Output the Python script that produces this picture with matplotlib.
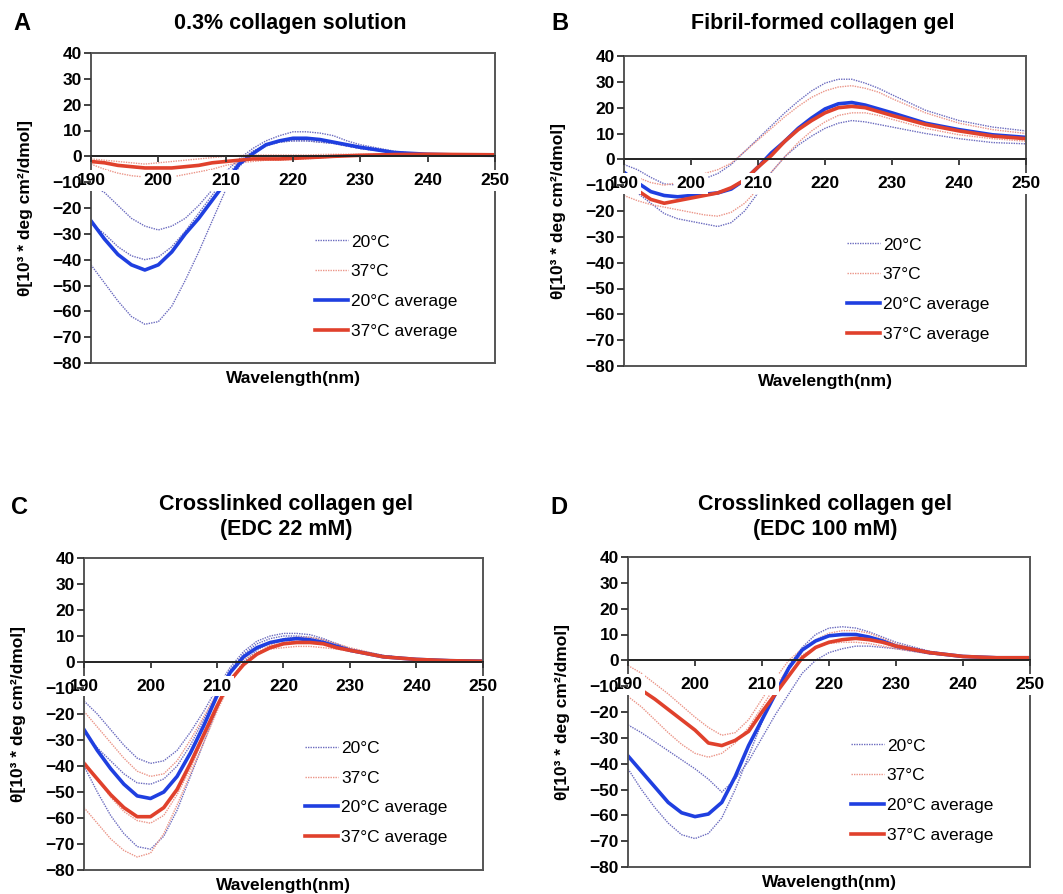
import matplotlib
matplotlib.use("Agg")
import matplotlib.pyplot as plt

# wavelength grid (nm) shared by every curve
wl = [190, 192, 194, 196, 198, 200, 202, 204, 206, 208, 210, 212, 214, 216,
      218, 220, 222, 224, 226, 228, 230, 235, 240, 245, 250]

# A: 0.3% collagen solution
a20_r1 = [-11, -14, -19, -24, -27, -28.5, -27, -24, -19, -13, -6, -1, 3, 6, 8, 9.5, 9.5, 9, 8, 6, 4.5, 2, 0.5, 0.3, 0.3]
a20_r2 = [-26, -30, -35, -38.5, -40, -39, -35, -29, -22, -15, -8, -2, 2, 4.5, 5.5, 6, 6, 5.5, 5, 4, 3, 1.5, 0.5, 0.3, 0.3]
a20_r3 = [-42, -49, -56, -62, -65, -64, -58, -48, -37, -25, -13, -4, 1, 4, 5.5, 6, 6, 5.5, 5, 4, 3, 1.5, 0.5, 0.3, 0.3]
a37_r1 = [-1, -1.5, -2, -2.5, -3, -2.5, -2, -1.5, -1, -0.5, 0, 0.3, 0.5, 0.5, 0.5, 0.5, 0.5, 0.7, 0.8, 0.8, 0.8, 0.8, 0.8, 0.7, 0.6]
a37_r2 = [-3, -5, -6.5, -7.5, -8, -8, -8, -7, -6, -5, -3.5, -2.5, -2, -1.5, -1.5, -1.2, -1, -0.6, -0.3, 0, 0.2, 0.5, 0.6, 0.6, 0.5]
a20_avg = [-25, -32, -38, -42, -44, -42, -37, -30, -24, -17, -10, -3, 1, 4.5, 6, 7, 7, 6.5, 5.5, 4.5, 3.5, 1.5, 0.8, 0.5, 0.4]
a37_avg = [-2, -2.5, -3.5, -4, -4.5, -4.5, -4.5, -4, -3.5, -2.5, -2, -1.5, -1, -1, -1, -0.8, -0.5, -0.3, 0, 0.2, 0.4, 0.7, 0.8, 0.7, 0.6]

# B: fibril-formed collagen gel
b20_r1 = [-2, -4, -7, -9.5, -10, -9, -7.5, -5.5, -2, 3, 8, 13, 18, 22.5, 26.5, 29.5, 31, 31, 29.5, 27.5, 25, 19, 15, 12.5, 11]
b20_r2 = [-10, -13, -17, -21, -23, -24, -25, -26, -24.5, -20, -13, -5, 1, 5.5, 9, 12, 14, 15, 14.5, 13.5, 12.5, 10, 8, 6.5, 6]
b37_r1 = [-5, -7, -9, -10, -9, -7.5, -5.5, -4, -1.5, 3, 7.5, 12, 16.5, 20.5, 24, 26.5, 28, 28.5, 27.5, 26, 23.5, 18, 14, 11.5, 10]
b37_r2 = [-14, -16, -17.5, -18.5, -19.5, -20.5, -21.5, -22, -20.5, -17, -11.5, -5, 1, 6.5, 11, 14.5, 17, 18, 18, 17, 15.5, 12, 9.5, 8, 7]
b20_avg = [-5, -9, -12.5, -14, -14.5, -14, -13.5, -13, -11.5, -8, -3, 2.5, 7, 12, 16, 19.5, 21.5, 22, 21, 19.5, 18, 14, 11.5, 9.5, 8.5]
b37_avg = [-8, -12, -15.5, -17, -16, -15, -14, -13, -11, -8, -3, 1.5, 7, 11.5, 15, 18, 20, 20.5, 20, 18.5, 17, 13.5, 11, 9, 8]

# C: crosslinked gel, EDC 22 mM
c20_r1 = [-15, -20, -26, -32, -37, -39, -38, -34, -27, -19, -10, -2, 4, 8, 10, 11, 11, 10.5, 9, 7, 5, 2.5, 1, 0.5, 0.3]
c20_r2 = [-27, -33, -38, -43, -46.5, -47, -45, -40, -32, -22, -12, -3, 3, 7, 9, 10, 10, 9.5, 8.5, 7, 5, 2.5, 1, 0.5, 0.3]
c20_r3 = [-40, -50, -59, -66, -71, -72, -67, -57, -44, -31, -18, -7, 0, 4.5, 7.5, 9, 9.5, 9, 8, 6.5, 5, 2.5, 1, 0.5, 0.3]
c37_r1 = [-19, -25, -31, -37, -42, -44, -43, -38, -30, -21, -12, -4, 1, 3.5, 5, 5.5, 6, 6, 5.5, 5, 4, 2, 1, 0.5, 0.3]
c37_r2 = [-38, -45, -52, -57.5, -61, -62, -59, -51, -41, -29, -17, -7, -1, 3, 6, 7.5, 8, 8, 7, 6, 4.5, 2, 1, 0.5, 0.3]
c37_r3 = [-56, -62, -68, -72.5, -75, -73.5, -66, -55, -43, -31, -19, -8, -1, 3.5, 6.5, 8.5, 9.5, 9.5, 8.5, 7, 5.5, 2.5, 1, 0.5, 0.3]
c20_avg = [-26, -34, -41, -47, -51.5, -52.5, -50, -44, -35, -24.5, -13, -4, 2, 5.5, 7.5, 8.5, 9, 8.5, 7.5, 6, 4.5, 2, 1, 0.5, 0.3]
c37_avg = [-39, -45, -51, -56, -59.5, -59.5, -56, -49, -39, -28, -17, -7, -1, 3, 5.5, 7, 7.5, 7.5, 7, 5.5, 4.5, 2, 1, 0.5, 0.3]

# D: crosslinked gel, EDC 100 mM
d20_r1 = [-25, -28, -31.5, -35, -38.5, -42, -46, -51, -46, -39, -30, -21, -13, -5, 0, 3, 4.5, 5.5, 5.5, 5, 4.5, 2.5, 1.5, 1, 1]
d20_r2 = [-42, -50, -57, -63, -67.5, -69, -67, -61, -50, -37, -24, -12, -2, 5, 10, 12.5, 13, 12.5, 11, 9, 7, 3.5, 1.5, 1, 1]
d37_r1 = [-2, -5, -9, -13, -17.5, -22, -26, -29, -28, -23, -15, -7, 0, 4.5, 8, 10.5, 11.5, 11.5, 10.5, 8.5, 6.5, 3, 1.5, 1, 1]
d37_r2 = [-14, -18, -23, -28, -32.5, -36, -37.5, -36, -32, -26, -18, -10, -3, 2, 5, 6.5, 7, 7, 6.5, 5.5, 4.5, 2.5, 1.5, 1, 1]
d20_avg = [-37, -43, -49, -55, -59, -60.5, -59.5, -55, -45, -33, -23, -13, -3, 4, 7.5, 9.5, 10, 10, 9, 7.5, 5.5, 3, 1.5, 1, 1]
d37_avg = [-9, -11.5, -15, -19, -23, -27, -32, -33, -31, -27.5, -20, -13, -6, 1, 5, 7, 8, 8.5, 8, 7, 5.5, 3, 1.5, 1, 1]

titles = ["0.3% collagen solution", "Fibril-formed collagen gel",
          "Crosslinked collagen gel\n(EDC 22 mM)", "Crosslinked collagen gel\n(EDC 100 mM)"]
letters = ["A", "B", "C", "D"]
legend_labels = ["20°C", "37°C", "20°C average", "37°C average"]

plt.rcParams['font.family'] = ['Liberation Sans', 'DejaVu Sans']
plt.rcParams['font.weight'] = 'bold'

W, H = 1063, 894
fig = plt.figure(figsize=(W / 100, H / 100), dpi=100)

# axes boxes in pixels: left, top, right, bottom
boxes = [(91, 53, 495, 363), (624, 56, 1026, 366),
         (84, 558, 483, 870), (628, 557, 1030, 867)]
title_pos = [(290, 23), (823, 23), (286, 517), (825, 517)]
letter_pos = [(22, 23), (560, 23), (19, 508), (559, 507)]

panels = [
    ([a20_r1, a20_r2, a20_r3], [a37_r1, a37_r2], a20_avg, a37_avg),
    ([b20_r1, b20_r2], [b37_r1, b37_r2], b20_avg, b37_avg),
    ([c20_r1, c20_r2, c20_r3], [c37_r1, c37_r2, c37_r3], c20_avg, c37_avg),
    ([d20_r1, d20_r2], [d37_r1, d37_r2], d20_avg, d37_avg),
]

blue = '#1f3fe0'
red = '#e0412c'
blue_dot = '#6b6bbf'
red_dot = '#eb9588'
box_col = '#555555'
dots = (0, (1, 0.8))

for i, (runs20, runs37, avg20, avg37) in enumerate(panels):
    l, t, r, b = boxes[i]
    ax = fig.add_axes([l / W, 1 - b / H, (r - l) / W, (b - t) / H])

    for k, y in enumerate(runs20):
        ax.plot(wl, y, color=blue_dot, lw=1.0, ls=dots, label=legend_labels[0] if k == 0 else None)
    for k, y in enumerate(runs37):
        ax.plot(wl, y, color=red_dot, lw=1.0, ls=dots, label=legend_labels[1] if k == 0 else None)
    ax.plot(wl, avg20, color=blue, lw=2.6, label=legend_labels[2])
    ax.plot(wl, avg37, color=red, lw=2.6, label=legend_labels[3])

    ax.set_xlim(190, 250)
    ax.set_ylim(-80, 40)
    ax.set_xticks(range(190, 251, 10))
    ax.set_yticks(range(-80, 41, 10))
    ax.set_axisbelow(False)

    # x axis drawn through zero, Excel style
    ax.spines['bottom'].set_position(('data', 0))
    ax.spines['bottom'].set_color('#222222')
    ax.spines['bottom'].set_linewidth(1.4)
    for s in ['left', 'right', 'top']:
        ax.spines[s].set_color(box_col)
        ax.spines[s].set_linewidth(1.4)
    ax.axhline(-80, color=box_col, lw=1.4, clip_on=False)

    ax.tick_params(axis='x', direction='out', length=4, width=1.3, pad=8,
                   labelsize=12.5, color='#333333')
    ax.tick_params(axis='y', direction='out', length=5, width=1.3, pad=1.5,
                   labelsize=12.5, color='#333333')
    # Excel-like tick labels with an opaque box that covers the curves
    for tk in ax.xaxis.get_major_ticks():
        tk.label1.set_bbox(dict(facecolor='white', edgecolor='none', pad=2))

    ax.text(0.5, -0.05, "Wavelength(nm)", transform=ax.transAxes,
            ha='center', va='center', fontsize=12.5)
    ax.text(-0.163, 0.5, "θ[10³ * deg cm²/dmol]", transform=ax.transAxes,
            ha='center', va='center', rotation=90, fontsize=12.5)

    ax.legend(loc='upper left', bbox_to_anchor=(0.555, 0.415), frameon=False,
              handlelength=1.9, handletextpad=0.15, labelspacing=0.85,
              borderaxespad=0, borderpad=0,
              prop={'weight': 'normal', 'size': 12.5})

    tx, ty = title_pos[i]
    fig.text(tx / W, 1 - ty / H, titles[i], ha='center', va='center',
             fontsize=15.5, linespacing=1.2)
    lx, ly = letter_pos[i]
    fig.text(lx / W, 1 - ly / H, letters[i], ha='center', va='center', fontsize=17)

fig.savefig("out.png", dpi=100)
